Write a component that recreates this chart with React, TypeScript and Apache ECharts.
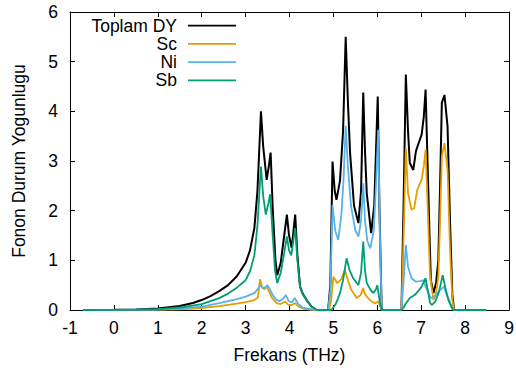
import { useEffect, useRef } from "react";
import * as echarts from "echarts";

// Phonon density of states (states/THz) versus frequency (THz)
const totalDos: [number, number][] = [
  [-0.7, 0], [-0.3, 0.002], [0, 0.005], [0.5, 0.012], [1, 0.03], [1.5, 0.08], [1.8, 0.14],
  [2, 0.2], [2.2, 0.28], [2.4, 0.38], [2.6, 0.5], [2.8, 0.68], [3.0, 0.95], [3.1, 1.2],
  [3.2, 1.65], [3.27, 2.4], [3.31, 3.2], [3.35, 4.0], [3.4, 3.3], [3.48, 2.62], [3.53, 2.9],
  [3.57, 3.17], [3.62, 2.0], [3.68, 1.0], [3.72, 0.7], [3.8, 0.95], [3.88, 1.5], [3.94, 1.92],
  [3.99, 1.5], [4.05, 1.25], [4.13, 1.92], [4.18, 1.1], [4.24, 0.47], [4.3, 0.33], [4.39, 0.2],
  [4.5, 0.07], [4.62, 0], [4.88, 0], [4.93, 0.5], [4.98, 2.99], [5.03, 2.4], [5.07, 2.22],
  [5.15, 2.6], [5.22, 3.6], [5.28, 5.5], [5.33, 4.2], [5.38, 3.16], [5.47, 2.1], [5.57, 1.75],
  [5.63, 2.4], [5.68, 4.38], [5.72, 3.2], [5.76, 2.35], [5.86, 1.55], [5.93, 2.1], [5.97, 3.2],
  [6.01, 4.3], [6.05, 2.0], [6.1, 0], [6.55, 0], [6.6, 2.2], [6.65, 4.74], [6.7, 3.6],
  [6.74, 2.96], [6.82, 2.82], [6.88, 3.2], [6.93, 3.33], [7.01, 3.53], [7.06, 3.9], [7.1, 4.44],
  [7.15, 2.8], [7.19, 1.5], [7.22, 0.6], [7.28, 0.34], [7.34, 0.55], [7.39, 1.0], [7.43, 2.5],
  [7.47, 4.17], [7.53, 4.33], [7.6, 3.7], [7.66, 1.68], [7.71, 0.3], [7.75, 0], [8.48, 0],
];

const scDos: [number, number][] = [
  [-0.7, 0], [0, 0.001], [1, 0.006], [1.5, 0.015], [2, 0.04], [2.4, 0.08], [2.8, 0.13],
  [3.0, 0.16], [3.2, 0.2], [3.28, 0.25], [3.33, 0.62], [3.38, 0.45], [3.43, 0.42], [3.48, 0.47],
  [3.53, 0.38], [3.6, 0.25], [3.7, 0.14], [3.8, 0.12], [3.9, 0.17], [3.97, 0.11], [4.05, 0.1],
  [4.13, 0.14], [4.2, 0.07], [4.3, 0.03], [4.45, 0.01], [4.62, 0], [4.9, 0], [4.95, 0.2],
  [5.0, 0.67], [5.09, 0.54], [5.18, 0.62], [5.26, 0.81], [5.33, 0.6], [5.4, 0.42], [5.53, 0.24],
  [5.62, 0.3], [5.68, 0.44], [5.72, 0.32], [5.76, 0.27], [5.86, 0.18], [5.95, 0.13], [6.02, 0.17],
  [6.06, 0.08], [6.1, 0], [6.55, 0], [6.6, 1.5], [6.65, 3.26], [6.7, 2.35], [6.78, 2.02],
  [6.84, 2.05], [6.91, 2.42], [7.01, 2.62], [7.06, 2.9], [7.1, 3.23], [7.15, 2.0], [7.2, 0.7],
  [7.28, 0.2], [7.34, 0.35], [7.39, 0.67], [7.43, 1.8], [7.47, 3.09], [7.53, 3.36], [7.6, 2.82],
  [7.66, 1.14], [7.71, 0.2], [7.75, 0], [8.48, 0],
];

const niDos: [number, number][] = [
  [-0.7, 0], [0, 0.002], [1, 0.01], [1.5, 0.03], [2, 0.07], [2.4, 0.14], [2.8, 0.22],
  [3.0, 0.27], [3.2, 0.34], [3.3, 0.45], [3.33, 0.5], [3.4, 0.44], [3.45, 0.46], [3.5, 0.5],
  [3.55, 0.42], [3.62, 0.3], [3.7, 0.2], [3.78, 0.18], [3.85, 0.22], [3.92, 0.3], [3.98, 0.18],
  [4.05, 0.15], [4.12, 0.24], [4.2, 0.12], [4.3, 0.05], [4.45, 0.02], [4.62, 0], [4.88, 0],
  [4.93, 0.4], [4.98, 2.12], [5.04, 1.6], [5.11, 1.41], [5.18, 1.9], [5.23, 2.6], [5.28, 3.71],
  [5.33, 2.9], [5.4, 2.1], [5.5, 1.6], [5.57, 1.48], [5.63, 1.8], [5.68, 2.55], [5.72, 1.8],
  [5.77, 1.4], [5.84, 1.24], [5.92, 1.6], [5.97, 2.5], [6.02, 3.63], [6.06, 1.5], [6.1, 0],
  [6.55, 0], [6.6, 0.6], [6.65, 1.31], [6.7, 0.87], [6.78, 0.64], [6.88, 0.57], [6.98, 0.58],
  [7.05, 0.6], [7.1, 0.47], [7.16, 0.35], [7.22, 0.24], [7.3, 0.27], [7.37, 0.34], [7.43, 0.4],
  [7.52, 0.47], [7.58, 0.3], [7.64, 0.2], [7.7, 0.03], [7.75, 0], [8.48, 0],
];

const sbDos: [number, number][] = [
  [-0.7, 0], [0, 0.003], [0.5, 0.007], [1, 0.017], [1.5, 0.05], [2, 0.12], [2.4, 0.24],
  [2.6, 0.33], [2.8, 0.45], [3.0, 0.6], [3.1, 0.78], [3.2, 1.1], [3.27, 1.7], [3.31, 2.3],
  [3.35, 2.89], [3.4, 2.3], [3.46, 1.92], [3.52, 2.15], [3.56, 2.33], [3.61, 1.6], [3.67, 0.8],
  [3.72, 0.54], [3.8, 0.75], [3.88, 1.15], [3.94, 1.48], [3.99, 1.2], [4.04, 1.1], [4.13, 1.65],
  [4.18, 1.0], [4.24, 0.47], [4.3, 0.33], [4.39, 0.2], [4.5, 0.07], [4.62, 0], [4.95, 0],
  [5.04, 0.1], [5.1, 0.22], [5.15, 0.34], [5.22, 0.6], [5.3, 1.04], [5.37, 0.8], [5.45, 0.64],
  [5.57, 0.5], [5.63, 0.75], [5.68, 1.38], [5.72, 0.8], [5.76, 0.54], [5.85, 0.4], [5.91, 0.34],
  [5.97, 0.42], [6.0, 0.5], [6.05, 0.2], [6.1, 0], [6.55, 0], [6.6, 0.05], [6.65, 0.13],
  [6.74, 0.24], [6.85, 0.3], [6.95, 0.4], [7.01, 0.47], [7.1, 0.64], [7.15, 0.4], [7.2, 0.15],
  [7.24, 0.1], [7.32, 0.17], [7.4, 0.35], [7.49, 0.7], [7.55, 0.45], [7.62, 0.2], [7.68, 0.08],
  [7.73, 0], [8.48, 0],
];

const seriesNames = ["Toplam DY", "Sc", "Ni", "Sb"];
const seriesColors = ["#000000", "#E69F00", "#56B4E9", "#009E73"];
const seriesData = [totalDos, scDos, niDos, sbDos];

const xRange = { min: -1, max: 9, interval: 1 };
const yRange = { min: 0, max: 6, interval: 1 };
const xTitle = "Frekans (THz)";
const yTitle = "Fonon Durum Yogunlugu";

const FONT = '"Liberation Sans", Arial, Helvetica, sans-serif';
const FONT_SIZE = 17.5;

export default function App() {
  const ref = useRef<HTMLDivElement>(null);

  useEffect(() => {
    if (!ref.current) return;
    const chart = echarts.init(ref.current, null, { renderer: "svg" });

    const axisLine = { show: true, onZero: false, lineStyle: { color: "#000", width: 1 } };
    const axisTick = { show: true, inside: true, length: 5, lineStyle: { color: "#000", width: 1 } };
    const axisLabel = { color: "#000", fontSize: FONT_SIZE, fontFamily: FONT };

    // key block: right-aligned names with a short line sample to their right
    const keyTop = 25.7;
    const keyStep = 18.2;
    const keyGraphics: any[] = [];
    seriesNames.forEach((name, i) => {
      const y = keyTop + i * keyStep;
      keyGraphics.push({
        type: "text",
        x: 177,
        y,
        style: {
          text: name,
          align: "right",
          verticalAlign: "middle",
          textAlign: "right",
          textVerticalAlign: "middle",
          fontSize: FONT_SIZE,
          fontFamily: FONT,
          fill: "#000",
        },
        z: 10,
      });
      keyGraphics.push({
        type: "line",
        shape: { x1: 188, y1: y, x2: 236, y2: y },
        style: { stroke: seriesColors[i], lineWidth: 1.8 },
        z: 10,
      });
    });

    chart.setOption({
      animation: false,
      backgroundColor: "#fff",
      grid: { left: 70, right: 7, top: 12, bottom: 62, outerBoundsMode: "none" },
      xAxis: [
        {
          type: "value",
          ...xRange,
          position: "bottom",
          axisLine,
          axisTick,
          axisLabel: { ...axisLabel, margin: 9 },
          splitLine: { show: false },
          name: xTitle,
          nameLocation: "middle",
          nameGap: 36,
          nameTextStyle: { color: "#000", fontSize: FONT_SIZE, fontFamily: FONT },
        },
        {
          type: "value",
          ...xRange,
          position: "top",
          axisLine,
          axisTick,
          axisLabel: { show: false },
          splitLine: { show: false },
        },
      ],
      yAxis: [
        {
          type: "value",
          ...yRange,
          position: "left",
          axisLine,
          axisTick,
          axisLabel: { ...axisLabel, margin: 12 },
          splitLine: { show: false },
          name: yTitle,
          nameLocation: "middle",
          nameGap: 42,
          nameTextStyle: { color: "#000", fontSize: FONT_SIZE, fontFamily: FONT },
        },
        {
          type: "value",
          ...yRange,
          position: "right",
          axisLine,
          axisTick,
          axisLabel: { show: false },
          splitLine: { show: false },
        },
      ],
      series: seriesData.map((data, i) => ({
        name: seriesNames[i],
        type: "line",
        data,
        xAxisIndex: 0,
        yAxisIndex: 0,
        symbol: "none",
        showSymbol: false,
        smooth: false,
        lineStyle: { color: seriesColors[i], width: i === 0 ? 2 : 1.8 },
        itemStyle: { color: seriesColors[i] },
        z: 2 + i,
      })),
      graphic: keyGraphics,
    });

    return () => chart.dispose();
  }, []);

  return (
    <div
      ref={ref}
      style={{ position: "fixed", left: 0, top: 0, width: 516, height: 372, background: "#fff" }}
    />
  );
}
